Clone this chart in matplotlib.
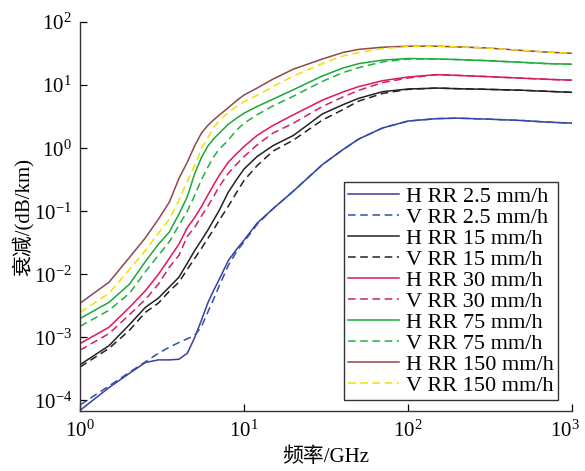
import matplotlib
matplotlib.use('Agg')
import matplotlib.pyplot as plt
import matplotlib.transforms as mtransforms
import numpy as np

plt.rcParams['font.family'] = ['Liberation Serif', 'Noto Sans CJK SC']
plt.rcParams['mathtext.fontset'] = 'stix'

# frequency grid (GHz)
freq = [1, 1.5, 2, 2.5, 3, 3.5, 4, 4.5, 5, 5.5, 6, 6.5, 7, 8, 9, 10, 12, 15, 20, 30,
        40, 50, 70, 100, 150, 200, 300, 500, 700, 1000]

# specific attenuation (dB/km)
h_25 = [7e-5, 1.6e-4, 2.7e-4, 4e-4, 4.4e-4, 4.4e-4, 4.5e-4, 5.6e-4, 1.0e-3, 1.9e-3, 3.5e-3,
        5.5e-3, 8e-3, 0.0165, 0.025, 0.035, 0.065, 0.11, 0.21, 0.55, 0.95, 1.4, 2.1, 2.7,
        2.95, 3.0, 2.9, 2.75, 2.6, 2.5]
v_25 = [8.5e-5, 1.7e-4, 2.8e-4, 4.1e-4, 5.6e-4, 7e-4, 8.3e-4, 9.5e-4, 1.07e-3, 1.5e-3,
        2.5e-3, 4e-3, 6.3e-3, 0.0138, 0.023, 0.033, 0.062, 0.11, 0.21, 0.55, 0.95, 1.4,
        2.1, 2.7, 2.95, 3.0, 2.9, 2.75, 2.6, 2.5]
h_15 = [3.7e-4, 7.4e-4, 1.6e-3, 3e-3, 4.2e-3, 6.3e-3, 9e-3, 0.015, 0.024, 0.035, 0.05,
        0.072, 0.1, 0.2, 0.32, 0.47, 0.74, 1.1, 1.6, 3.5, 4.9, 6.2, 7.9, 8.7, 9.0, 8.8,
        8.6, 8.3, 8.0, 7.7]
v_15 = [3.4e-4, 6.7e-4, 1.3e-3, 2.5e-3, 3.5e-3, 5.4e-3, 7.5e-3, 0.012, 0.018, 0.026,
        0.037, 0.051, 0.07, 0.12, 0.2, 0.31, 0.53, 0.9, 1.35, 2.8, 4.1, 5.6, 7.4, 8.6,
        9.0, 8.8, 8.6, 8.3, 8.0, 7.7]
h_30 = [8e-4, 1.45e-3, 3e-3, 5.5e-3, 0.01, 0.018, 0.03, 0.055, 0.08, 0.12, 0.18, 0.26,
        0.36, 0.6, 0.82, 1.07, 1.6, 2.3, 3.4, 5.8, 7.8, 9.5, 11.8, 13.5, 14.7, 14.3, 13.7,
        12.9, 12.4, 12.0]
v_30 = [6.3e-4, 1.15e-3, 2.3e-3, 4e-3, 7e-3, 0.013, 0.02, 0.04, 0.056, 0.085, 0.12, 0.17,
        0.24, 0.4, 0.56, 0.74, 1.13, 1.74, 2.5, 4.6, 6.5, 8.3, 11.0, 13.0, 14.7, 14.3,
        13.7, 12.9, 12.4, 12.0]
h_75 = [2.0e-3, 3.6e-3, 7e-3, 0.016, 0.03, 0.047, 0.09, 0.17, 0.4, 0.72, 1.08, 1.4, 1.7,
        2.4, 3.0, 3.6, 4.6, 6.0, 8.5, 14, 18.7, 22, 25, 26.5, 26, 25.5, 24.5, 23, 22, 21.5]
v_75 = [1.5e-3, 2.7e-3, 5e-3, 0.011, 0.02, 0.033, 0.06, 0.1, 0.18, 0.32, 0.5, 0.72, 0.95,
        1.34, 1.95, 2.5, 3.4, 4.7, 6.7, 11.5, 15.8, 19, 23.5, 26, 26, 25.5, 24.5, 23, 22,
        21.5]
h_150 = [3.5e-3, 7.5e-3, 0.0186, 0.038, 0.075, 0.14, 0.33, 0.6, 1.1, 1.75, 2.3, 2.8, 3.3,
         4.4, 5.7, 7.0, 9.0, 12.5, 18, 26, 33, 37, 40, 41.5, 41.5, 40.5, 39, 35.5, 33.5, 32]
v_150 = [2.5e-3, 5e-3, 0.012, 0.024, 0.045, 0.075, 0.15, 0.3, 0.53, 1.0, 1.47, 2.1, 2.7,
         3.7, 4.6, 5.5, 6.9, 9.5, 14, 22, 29, 33, 38, 41, 41.5, 40.5, 39, 35.5, 33.5, 32]

labels = ['H RR 2.5 mm/h', 'V RR 2.5 mm/h', 'H RR 15 mm/h', 'V RR 15 mm/h',
          'H RR 30 mm/h', 'V RR 30 mm/h', 'H RR 75 mm/h', 'V RR 75 mm/h',
          'H RR 150 mm/h', 'V RR 150 mm/h']
series = [h_25, v_25, h_15, v_15, h_30, v_30, h_75, v_75, h_150, v_150]
colors = ['#3a3f9a', '#2f4fb0', '#222222', '#222222', '#e0185a', '#d02060',
          '#1aa83a', '#22b040', '#8f4848', '#f2e000']

fig = plt.figure(figsize=(5.85, 4.71), dpi=100)
ax = fig.add_axes([0.137, 0.127, 0.841, 0.826])

for i, (ys, lab, c) in enumerate(zip(series, labels, colors)):
    if i % 2 == 0:
        ax.plot(freq, ys, color=c, lw=1.1, label=lab)
    else:
        ax.plot(freq, ys, color=c, lw=1.1, ls=(0, (5, 3)), label=lab)

ax.set_xscale('log')
ax.set_yscale('log')
ax.set_xlim(1, 1000)
ax.set_ylim(10 ** -4.17, 100)
ax.set_xticks([1, 10, 100, 1000])
ax.minorticks_off()
ax.tick_params(direction='in', length=5, labelsize=15, width=0.9)
ax.tick_params(axis='x', pad=7)
ax.tick_params(axis='y', pad=6)
for s in ['top', 'right']:
    ax.spines[s].set_visible(False)
for s in ['left', 'bottom']:
    ax.spines[s].set_linewidth(1.0)
    ax.spines[s].set_color('#333333')

ax.set_xlabel('频率/GHz', fontsize=15, labelpad=4)
ax.set_ylabel('衰减/(dB/km)', fontsize=15, labelpad=0)

# keep the 10^3 tick label inside the figure
fig.canvas.draw()
for tick in ax.xaxis.get_major_ticks():
    if np.isclose(tick.get_loc(), 1000):
        lab = tick.label1
        lab.set_transform(lab.get_transform() +
                          mtransforms.ScaledTranslation(-5 / 72, 0, fig.dpi_scale_trans))

leg = ax.legend(loc='lower right', bbox_to_anchor=(0.972, 0.028), borderaxespad=0,
                fontsize=16, handlelength=2.3, handletextpad=0.3, labelspacing=0.02,
                borderpad=0.2, fancybox=False, framealpha=1, edgecolor='#333333')
leg.get_frame().set_linewidth(1.0)

fig.savefig('out.png', dpi=100)
